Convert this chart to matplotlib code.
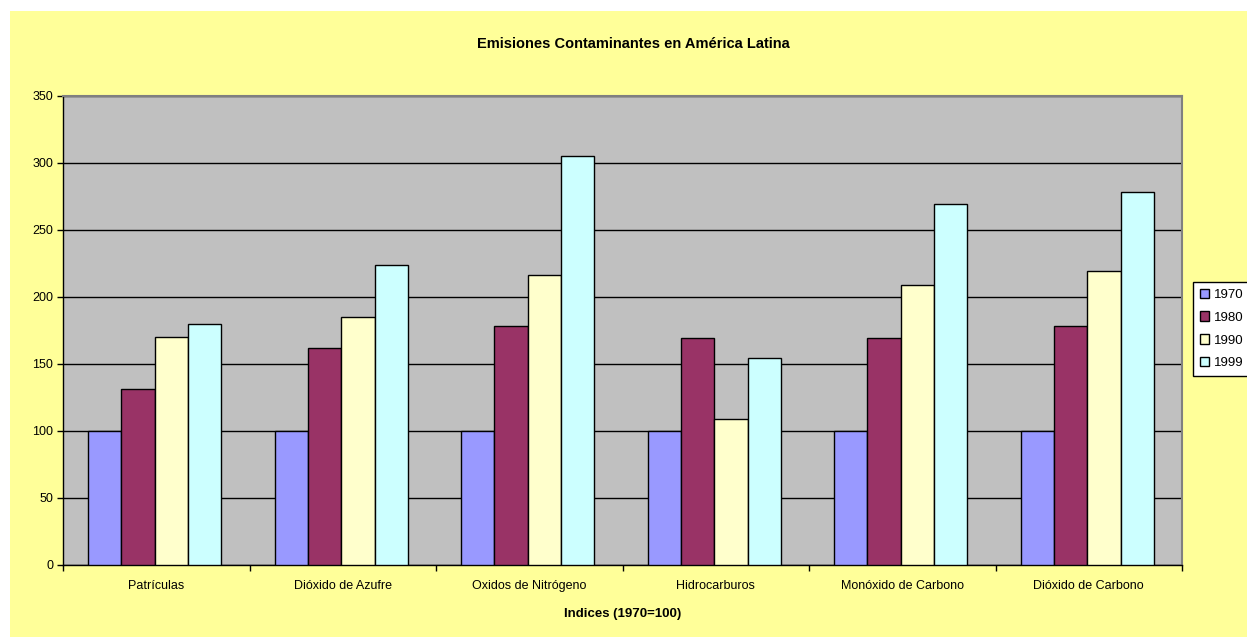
import numpy as np
import matplotlib
matplotlib.use("Agg")
import matplotlib.pyplot as plt
from matplotlib.patches import Rectangle

# data
categorias = ["Patrículas", "Dióxido de Azufre", "Oxidos de Nitrógeno",
              "Hidrocarburos", "Monóxido de Carbono", "Dióxido de Carbono"]
anios = ["1970", "1980", "1990", "1999"]
v1970 = [100, 100, 100, 100, 100, 100]
v1980 = [131, 162, 178, 169, 169, 178]
v1990 = [170, 185, 216, 108.5, 209, 219]
v1999 = [180, 224, 305, 154, 269, 278]
colores = ["#9999FF", "#993366", "#FFFFCC", "#CCFFFF"]

plt.rcParams['font.family'] = ['Liberation Sans', 'DejaVu Sans']

fig = plt.figure(figsize=(12.47, 6.37), dpi=100)
fig.patch.set_facecolor("white")
# yellow chart area
fig.patches.append(Rectangle((10/1247, 0), 1 - 10/1247, 1 - 11/637,
                             transform=fig.transFigure, facecolor="#FFFF99",
                             edgecolor="none", zorder=-10))

ax = fig.add_axes([63/1247, 1 - 564.5/637, (1182 - 63)/1247, (564.5 - 96)/637])
ax.set_facecolor("#C0C0C0")

series = [v1970, v1980, v1990, v1999]
x = np.arange(len(categorias))
w = 1 / 5.6
for i, (vals, c, lab) in enumerate(zip(series, colores, anios)):
    ax.bar(x + (i - 1.5) * w - 0.008, vals, width=w, color=c, edgecolor="black",
           linewidth=1, label=lab, zorder=3)

ax.set_xlim(-0.5, len(categorias) - 0.5)
ax.set_ylim(0, 350)
ax.set_yticks(np.arange(0, 351, 50))
ax.yaxis.grid(True, color="black", linewidth=1, zorder=1)
ax.set_axisbelow(True)

ax.set_xticks(x)
ax.set_xticklabels(categorias, fontsize=9)
ax.tick_params(axis="x", which="major", length=0, pad=11)
ax.set_xticks(np.arange(-0.5, len(categorias), 1), minor=True)
ax.tick_params(axis="x", which="minor", length=4, width=1, direction="out")
ax.tick_params(axis="y", length=4, width=1, direction="out", labelsize=9, pad=3)

for s in ["top", "right"]:
    ax.spines[s].set_color("#808080")
    ax.spines[s].set_linewidth(1.5)
for s in ["left", "bottom"]:
    ax.spines[s].set_color("black")
    ax.spines[s].set_linewidth(1)

ax.set_xlabel("Indices (1970=100)", fontsize=9.5, fontweight="bold", labelpad=12)
fig.text(633/1247, 1 - 44/637, "Emisiones Contaminantes en América Latina",
         ha="center", va="center", fontsize=10.5, fontweight="bold")

leg = fig.legend(loc="center left", bbox_to_anchor=(1193/1247, 1 - 329/637),
                 fontsize=9.5, frameon=True, fancybox=False, edgecolor="black",
                 framealpha=1, handlelength=0.7, handleheight=0.7,
                 handletextpad=0.4, labelspacing=0.8, borderpad=0.5,
                 borderaxespad=0)
leg.get_frame().set_linewidth(1)

fig.savefig("out.png", dpi=100)
